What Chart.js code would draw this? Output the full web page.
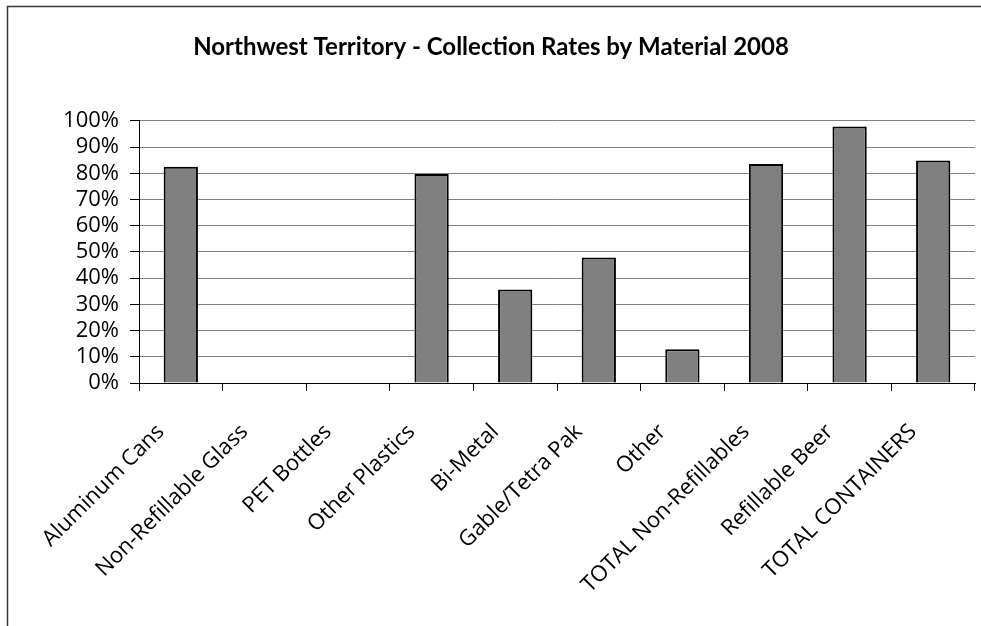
<!DOCTYPE html>
<html>
<head>
<meta charset="utf-8">
<script src="https://cdn.jsdelivr.net/npm/chart.js@4.4.0/dist/chart.umd.min.js"></script>
<style>
  html, body { margin: 0; padding: 0; background: #fff; overflow: hidden; }
  #wrap { width: 981px; height: 626px; }
</style>
</head>
<body>
<div id="wrap"><canvas id="grafico-coleta"></canvas></div>
<script>
// dados
var categorias = ['Aluminum Cans', 'Non-Refillable Glass', 'PET Bottles', 'Other Plastics', 'Bi-Metal',
    'Gable/Tetra Pak', 'Other', 'TOTAL Non-Refillables', 'Refillable Beer', 'TOTAL CONTAINERS'];
var taxas = [82.5, 0, 0, 79.7, 35.7, 47.9, 12.9, 83.5, 97.8, 84.9]; // % coletado
var ticksY = [0, 10, 20, 30, 40, 50, 60, 70, 80, 90, 100];

// moldura externa do grafico (so topo e lado esquerdo aparecem)
var moldura = {
    id: 'moldura',
    afterDraw: function (chart) {
        var c = chart.ctx;
        c.save();
        c.strokeStyle = '#3a3a3a';
        c.lineWidth = 1.5;
        c.beginPath();
        c.moveTo(7.5, chart.height);
        c.lineTo(7.5, 6.5);
        c.lineTo(chart.width, 6.5);
        c.stroke();
        c.restore();
    }
};

var ctx = document.getElementById('grafico-coleta').getContext('2d');
var meuGrafico = new Chart(ctx, {
    type: 'bar',
    data: {
        labels: categorias,
        datasets: [{
            label: 'Collection Rate',
            data: taxas,
            backgroundColor: '#808080', // cinza das barras
            borderColor: '#000000',
            borderWidth: 2,
            barPercentage: 0.41,
            categoryPercentage: 1.0
        }]
    },
    options: {
        responsive: true,
        maintainAspectRatio: false,
        animation: false,
        layout: { padding: { left: 7, top: 6, right: 6, bottom: 0 } },
        plugins: {
            legend: { display: false },
            tooltip: { enabled: false },
            title: {
                display: true,
                text: 'Northwest Territory - Collection Rates by Material 2008',
                color: '#000',
                font: { family: 'Lato', size: 24, weight: 'bold' },
                padding: { top: 27, bottom: 59 }
            }
        },
        scales: {
            x: {
                grid: {
                    color: function (c) { return c.index === categorias.length ? '#808080' : 'rgba(0,0,0,0)'; },
                    tickColor: '#000',
                    tickLength: 8
                },
                border: { color: '#000', width: 1 },
                ticks: {
                    color: '#000',
                    font: { family: 'Open Sans', size: 22 },
                    minRotation: 45,
                    maxRotation: 45,
                    padding: 28,
                    labelOffset: -20,
                    autoSkip: false
                },
                afterFit: function (scale) { scale.height = 243; }
            },
            y: {
                min: 0,
                max: 100,
                afterBuildTicks: function (scale) {
                    scale.ticks = ticksY.map(function (v) { return { value: v }; });
                },
                grid: { color: '#808080', tickColor: '#000', tickLength: 9 },
                border: { color: '#000', width: 1 },
                ticks: {
                    color: '#000',
                    font: { family: 'Open Sans', size: 22 },
                    padding: 11,
                    autoSkip: false,
                    callback: function (v) { return v + '%'; }
                },
                afterFit: function (scale) { scale.width = 132; }
            }
        }
    },
    plugins: [moldura]
});
</script>
</body>
</html>
